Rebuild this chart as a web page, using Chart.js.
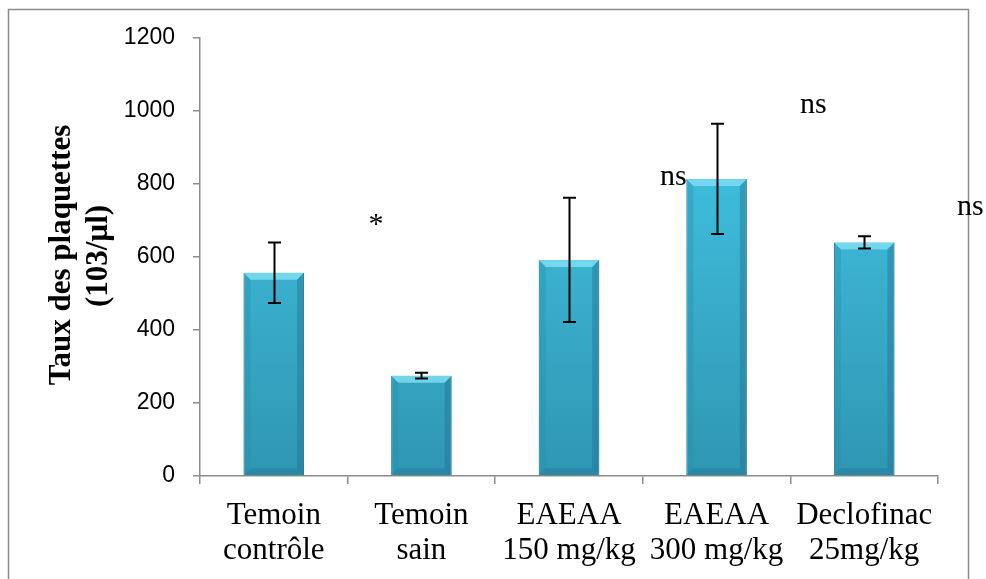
<!DOCTYPE html>
<html>
<head>
<meta charset="utf-8">
<script src="https://cdn.jsdelivr.net/npm/chart.js@4/dist/chart.umd.min.js"></script>
<style>
html,body{margin:0;padding:0;background:#fff;}
#wrap{width:986px;height:579px;position:relative;}
</style>
</head>
<body>
<div id="wrap"><canvas id="c" width="986" height="579"></canvas></div>
<script>
const categories = [["Temoin","contrôle"],["Temoin","sain"],["EAEAA","150 mg/kg"],["EAEAA","300 mg/kg"],["Declofinac","25mg/kg"]];
const values = [557, 275, 592, 814, 640];
const errors = [83, 8, 170, 151, 17];
const yTicks = [0, 200, 400, 600, 800, 1000, 1200];
const yTitle = ["Taux des plaquettes", "(103/µl)"];
const annotationText = ["*", "ns", "ns", "ns"];
const annotationX = [0.692, 2.617, 3.565, 4.629];
const annotationY = [666, 797, 995, 715];
const annotationAlign = ["center", "left", "left", "left"];

const framePlugin = {
  id: 'frame',
  beforeDraw(chart) {
    const ctx = chart.ctx;
    ctx.save();
    ctx.strokeStyle = '#8c8c8c';
    ctx.lineWidth = 1.5;
    ctx.strokeRect(8.5, 9.5, 960, 640);
    ctx.restore();
  }
};

const bevelPlugin = {
  id: 'bevel',
  afterDatasetsDraw(chart) {
    const ctx = chart.ctx;
    const meta = chart.getDatasetMeta(0);
    ctx.save();
    meta.data.forEach(bar => {
      const l = bar.x - bar.width / 2, r = bar.x + bar.width / 2;
      const t = bar.y, b = bar.base;
      const bv = 7;
      ctx.fillStyle = 'rgba(130,225,245,0.8)';
      ctx.beginPath();
      ctx.moveTo(l, t); ctx.lineTo(r, t); ctx.lineTo(r - bv, t + bv); ctx.lineTo(l + bv, t + bv); ctx.closePath(); ctx.fill();
      ctx.fillStyle = 'rgba(40,140,170,0.35)';
      ctx.beginPath();
      ctx.moveTo(l, t); ctx.lineTo(l + bv, t + bv); ctx.lineTo(l + bv, b - bv); ctx.lineTo(l, b); ctx.closePath(); ctx.fill();
      ctx.fillStyle = 'rgba(30,110,140,0.4)';
      ctx.beginPath();
      ctx.moveTo(r, t); ctx.lineTo(r - bv, t + bv); ctx.lineTo(r - bv, b - bv); ctx.lineTo(r, b); ctx.closePath(); ctx.fill();
      ctx.fillStyle = 'rgba(30,105,135,0.3)';
      ctx.beginPath();
      ctx.moveTo(l, b); ctx.lineTo(r, b); ctx.lineTo(r - bv, b - bv); ctx.lineTo(l + bv, b - bv); ctx.closePath(); ctx.fill();
    });
    ctx.restore();
  }
};

const errorPlugin = {
  id: 'errs',
  afterDatasetsDraw(chart) {
    const ctx = chart.ctx;
    const ys = chart.scales.y;
    const meta = chart.getDatasetMeta(0);
    ctx.save();
    ctx.strokeStyle = '#000';
    ctx.lineWidth = 2;
    meta.data.forEach((bar, i) => {
      const x = Math.round(bar.x) + 0.5;
      const yt = ys.getPixelForValue(values[i] + errors[i]);
      const yb = ys.getPixelForValue(values[i] - errors[i]);
      ctx.beginPath();
      ctx.moveTo(x, yt); ctx.lineTo(x, yb);
      ctx.moveTo(x - 6.5, yt); ctx.lineTo(x + 6.5, yt);
      ctx.moveTo(x - 6.5, yb); ctx.lineTo(x + 6.5, yb);
      ctx.stroke();
    });
    ctx.restore();
  }
};

const textPlugin = {
  id: 'texts',
  afterDraw(chart) {
    const ctx = chart.ctx;
    const xs = chart.scales.x, ys = chart.scales.y;
    ctx.save();
    ctx.fillStyle = '#000';
    ctx.font = '30px "Liberation Serif", "Times New Roman", serif';
    ctx.textBaseline = 'alphabetic';
    annotationText.forEach((t, i) => {
      ctx.textAlign = annotationAlign[i];
      ctx.fillText(t, xs.getPixelForValue(annotationX[i]), ys.getPixelForValue(annotationY[i]));
    });
    const cy = (ys.top + ys.bottom) / 2;
    ctx.font = 'bold 31px "Liberation Serif", "Times New Roman", serif';
    ctx.textAlign = 'center';
    ctx.textBaseline = 'middle';
    ctx.translate(0, cy);
    ctx.rotate(-Math.PI / 2);
    ctx.fillText(yTitle[0], -(cy - 259), 62);
    ctx.fillText(yTitle[1], -(cy - 258), 99);
    ctx.restore();
  }
};

new Chart(document.getElementById('c'), {
  type: 'bar',
  data: {
    labels: categories,
    datasets: [{
      data: values,
      backgroundColor: (c) => {
        const ch = c.chart;
        const a = ch.chartArea;
        if (!a) return '#38B0D0';
        const g = ch.ctx.createLinearGradient(0, a.top + 150, 0, a.bottom);
        g.addColorStop(0, '#3EBBDA');
        g.addColorStop(1, '#2F96B3');
        return g;
      },
      borderColor: '#2A88A4',
      borderWidth: 1,
      barPercentage: 0.82,
      categoryPercentage: 0.5
    }]
  },
  options: {
    responsive: false,
    animation: false,
    devicePixelRatio: 1,
    layout: { padding: { top: 38, right: 48, bottom: 0, left: 0 } },
    plugins: { legend: { display: false }, tooltip: { enabled: false } },
    scales: {
      y: {
        min: 0, max: 1200,
        afterBuildTicks: (s) => { s.ticks = yTicks.map(v => ({ value: v })); },
        afterFit: (s) => { s.width = 200; },
        grid: { display: true, drawOnChartArea: false, drawTicks: true, tickLength: 7, color: '#8c8c8c', lineWidth: 1.5 },
        border: { display: true, color: '#8c8c8c', width: 1.5 },
        ticks: { color: '#000', padding: 18, callback: (v) => String(v), font: { family: '"Liberation Sans", Arial, sans-serif', size: 23 } }
      },
      x: {
        afterFit: (s) => { s.height = 103; },
        grid: { display: true, drawOnChartArea: false, drawTicks: true, tickLength: 8, color: '#8c8c8c', lineWidth: 1.5, offset: true },
        border: { display: true, color: '#8c8c8c', width: 1.5 },
        ticks: { color: '#000', padding: 14, maxRotation: 0, autoSkip: false, font: { family: '"Liberation Serif", "Times New Roman", serif', size: 31, lineHeight: 1.13 } }
      }
    }
  },
  plugins: [framePlugin, bevelPlugin, errorPlugin, textPlugin]
});
</script>
</body>
</html>
